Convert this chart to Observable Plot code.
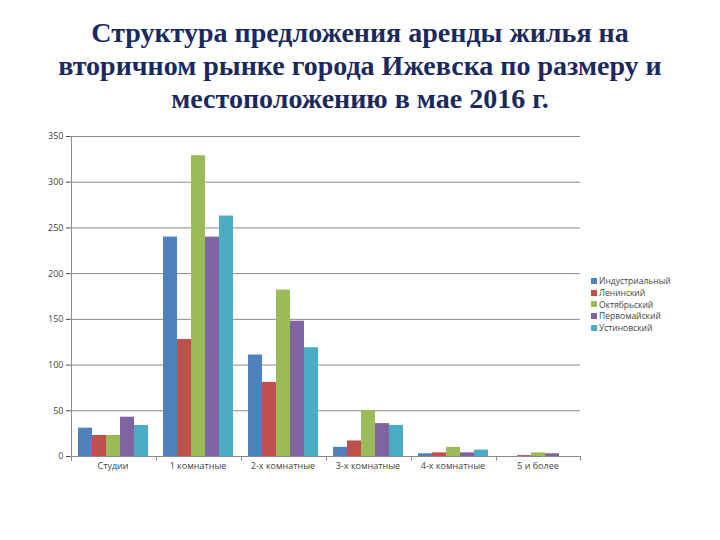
<!DOCTYPE html>
<html><head><meta charset="utf-8">
<script src="https://cdn.jsdelivr.net/npm/d3@7"></script>
<script src="https://cdn.jsdelivr.net/npm/@observablehq/plot@0.6"></script>
<style>
body{margin:0;background:#fff;width:720px;height:540px;position:relative;overflow:hidden}
#title{position:absolute;left:0;top:16px;width:720px;text-align:center;font:bold 28px/33px "Liberation Serif",serif;color:#1b2a5e}
#chart{position:absolute;left:0;top:120px}
#legend{position:absolute;left:591px;top:275px;font:8.5px "Open Sans",sans-serif;color:#444}
.item{display:flex;align-items:center;height:11.7px;white-space:nowrap}
.sw{width:6px;height:6px;margin-right:2px}
</style></head><body>
<div id="title">Структура предложения аренды жилья на<br>вторичном рынке города Ижевска по размеру и<br>местоположению в мае 2016 г.</div>
<div id="chart"></div><div id="legend"></div>
<script>
const categories = ["Студии", "1 комнатные", "2-х комнатные", "3-х комнатные", "4-х комнатные", "5 и более"];
const districts = ["Индустриальный", "Ленинский", "Октябрьский", "Первомайский", "Устиновский"];
const industrial = [31, 240, 111, 10, 3, 0];
const leninsky   = [23, 128, 81, 17, 4, 1];
const oktyabrsky = [23, 329, 182, 50, 10, 4];
const pervomaisky= [43, 240, 148, 36, 4, 3];
const ustinovsky = [34, 263, 119, 34, 7, 0];
const yTicks = [0, 50, 100, 150, 200, 250, 300, 350];
const colors = ["#4f81bd", "#c0504d", "#9bbb59", "#8064a2", "#4bacc6"];

const seriesList = [industrial, leninsky, oktyabrsky, pervomaisky, ustinovsky];
const rows = [];
categories.forEach((c, i) => districts.forEach((d, j) => rows.push({cat: c, district: d, value: seriesList[j][i]})));

const W = 720, H = 360, mL = 67, mR = 138, mT = 16, mB = 24;
const po = 0.47;
const fxStep = (W - mL - mR) / categories.length;
const barStep = fxStep / (districts.length + 2 * po);
const edgeOff = barStep * (0.5 + po);
const gridColor = "#8a8a8a";

const chart = Plot.plot({
  width: W, height: H,
  marginLeft: mL, marginRight: mR, marginTop: mT, marginBottom: mB,
  style: {fontFamily: "'Open Sans', sans-serif", fontSize: "9px", color: "#444", background: "white"},
  fx: {domain: categories, padding: 0, label: null, tickSize: 0, tickPadding: 6, axis: "bottom"},
  x: {domain: districts, paddingInner: 0, paddingOuter: po, axis: null},
  y: {domain: [0, 350], ticks: yTicks, tickSize: 4, tickPadding: 3, label: null, tickFormat: d => d},
  color: {domain: districts, range: colors},
  marks: [
    Plot.ruleY(yTicks.slice(1), {stroke: gridColor, strokeWidth: 1}),
    Plot.ruleY([0], {stroke: gridColor, strokeWidth: 1}),
    Plot.barY(rows, {fx: "cat", x: "district", y: "value", fill: "district"}),
    Plot.ruleX(categories.map(c => ({cat: c})), {fx: "cat", x: () => districts[0], y1: 0, y2: -5, dx: -edgeOff, stroke: gridColor}),
    Plot.ruleX([{cat: categories[0]}], {fx: "cat", x: () => districts[0], y1: -5, y2: 350, dx: -edgeOff, stroke: gridColor}),
    Plot.ruleX([{cat: categories[categories.length - 1]}], {fx: "cat", x: () => districts[districts.length - 1], y1: 0, y2: -5, dx: edgeOff, stroke: gridColor})
  ]
});
document.getElementById("chart").appendChild(chart);

const legend = document.getElementById("legend");
districts.forEach((d, j) => {
  const it = document.createElement("div");
  it.className = "item";
  it.innerHTML = `<span class="sw" style="background:${colors[j]}"></span><span>${d}</span>`;
  legend.appendChild(it);
});
</script>
</body></html>
